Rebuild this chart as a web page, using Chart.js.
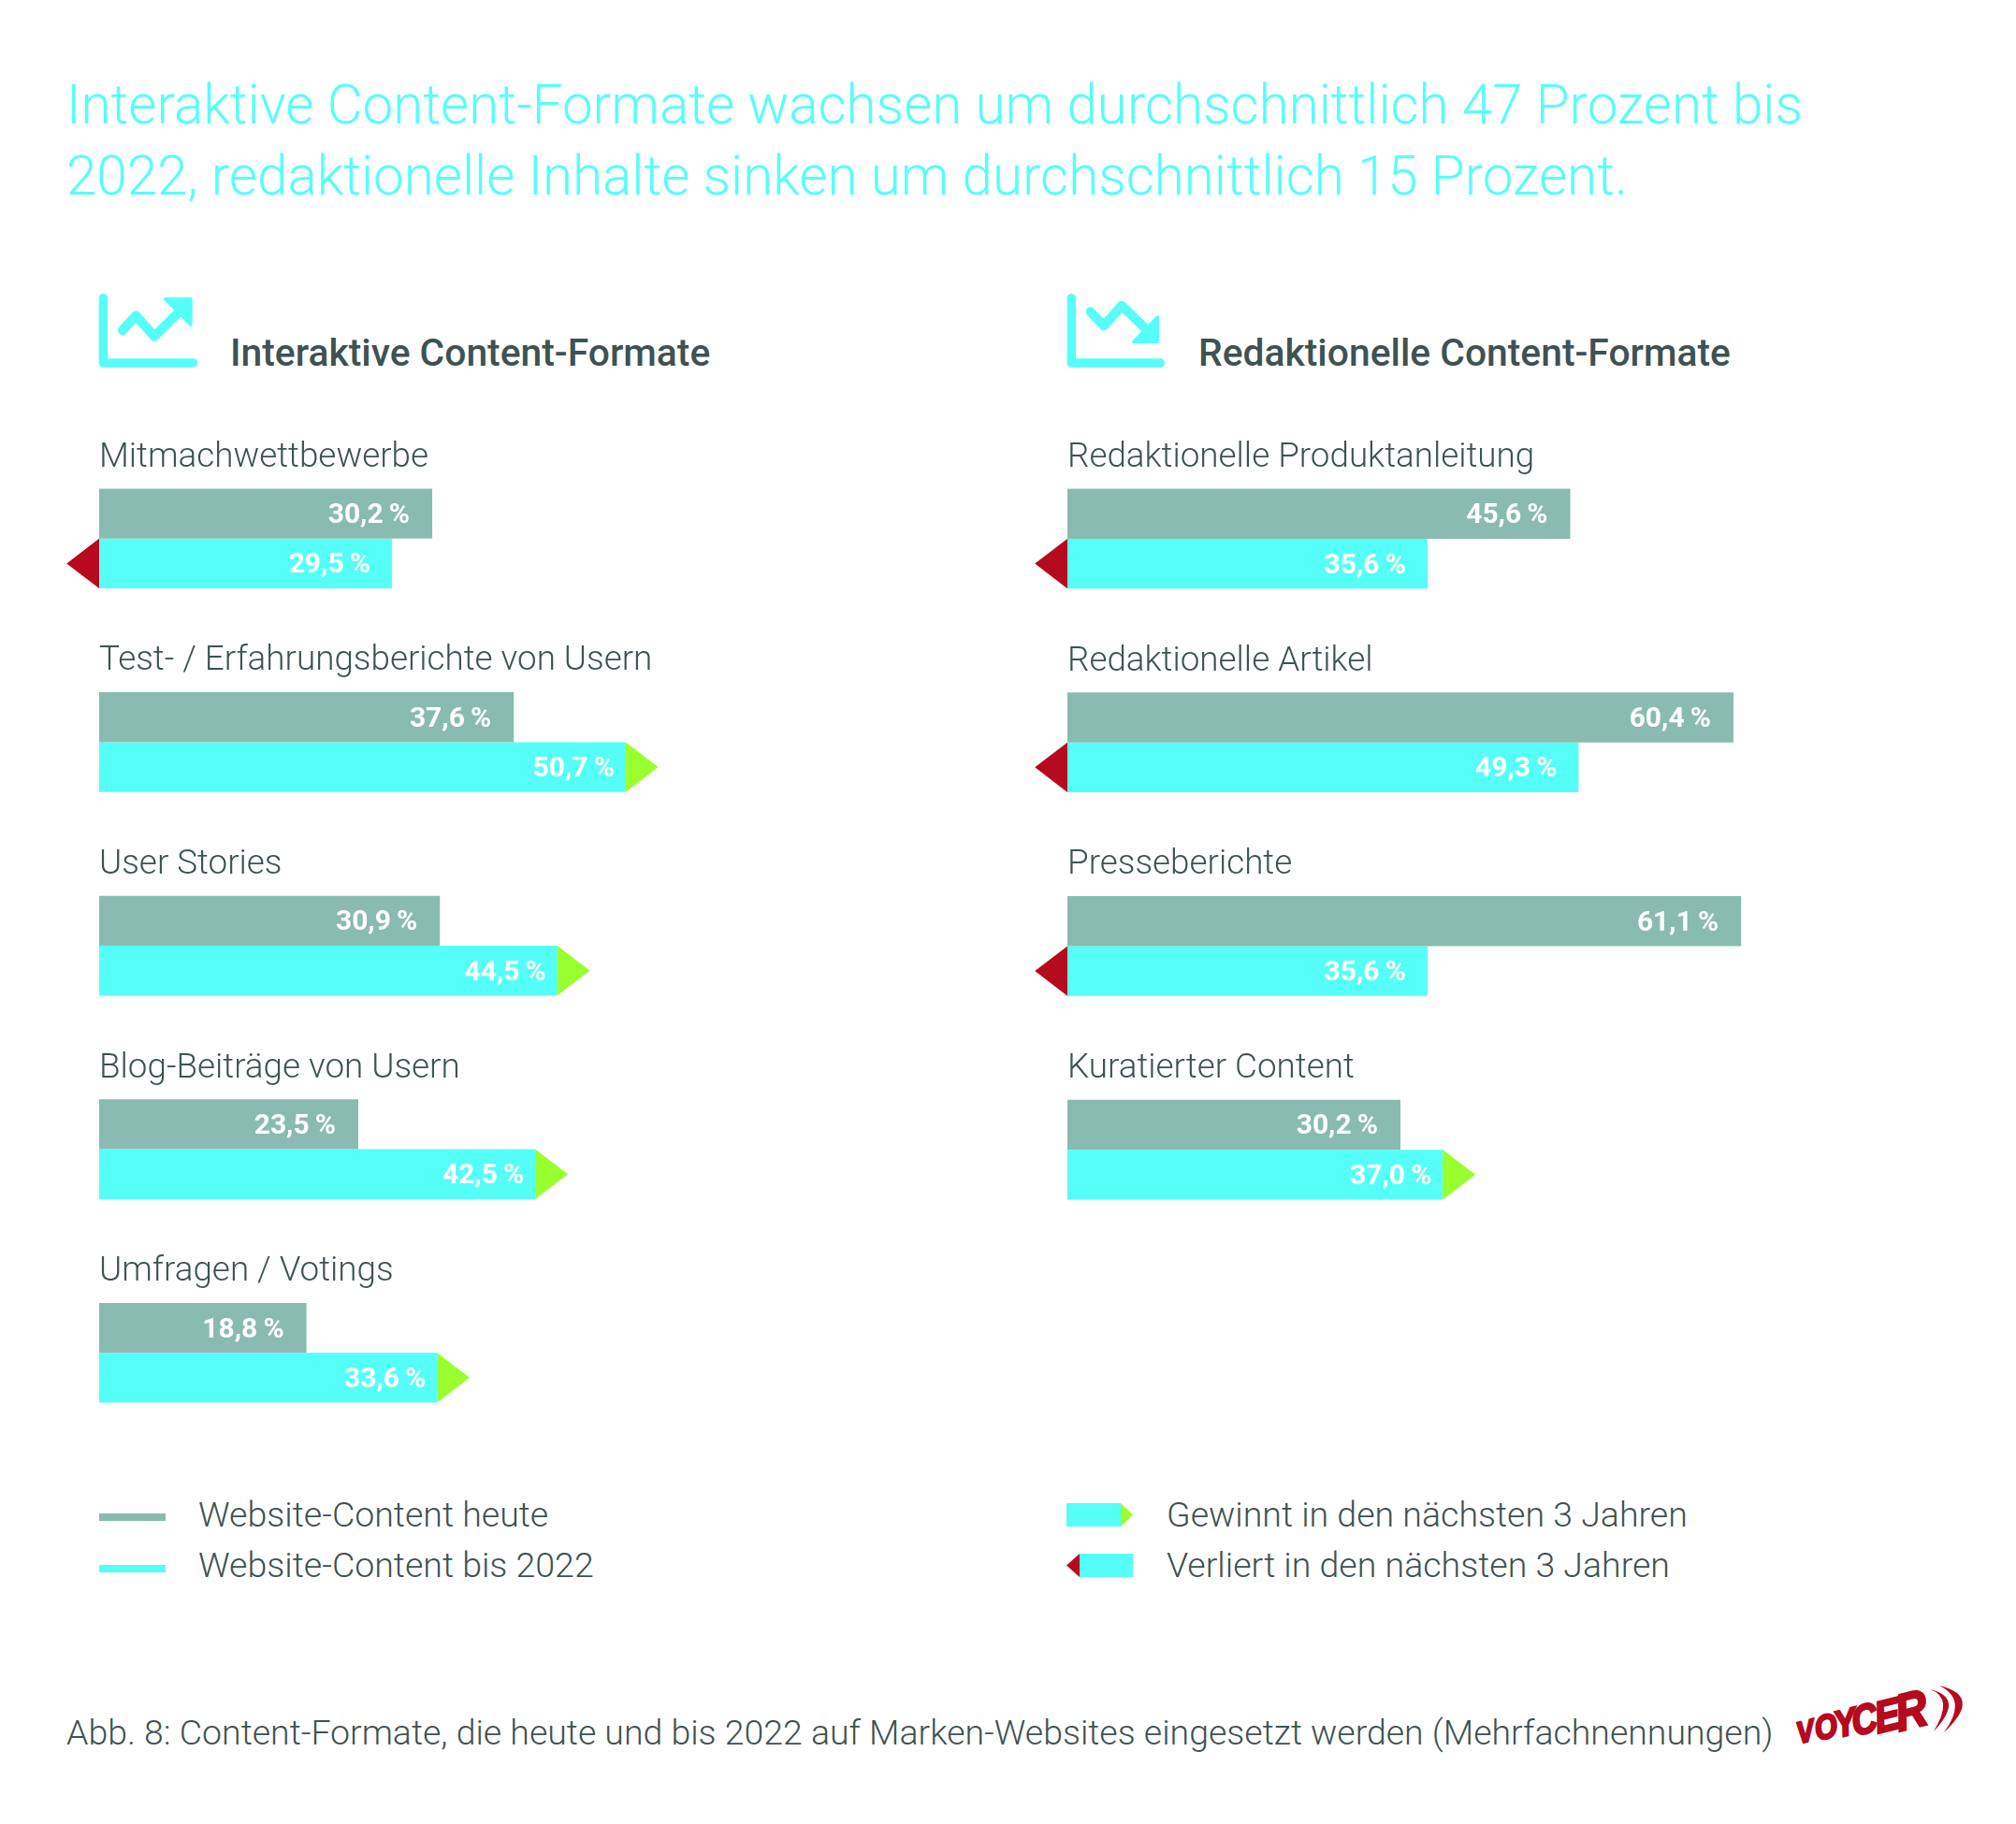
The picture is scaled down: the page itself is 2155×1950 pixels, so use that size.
<!DOCTYPE html>
<html lang="de">
<head>
<meta charset="utf-8">
<title>Content-Formate</title>
<script src="https://cdn.jsdelivr.net/npm/chart.js@4/dist/chart.umd.min.js"></script>
<style>
  html, body { margin: 0; background: #fff; }
  #page { position: relative; width: 2155px; height: 1950px; overflow: hidden; font-family: Roboto, sans-serif; }
  #page canvas, #page svg, .txt, .swatch { position: absolute; }
  .txt { white-space: nowrap; line-height: 1; }
</style>
</head>
<body>
<div id="page">
  <canvas id="chartLeft" width="1049" height="1088" style="left:0;top:467px"></canvas>
  <canvas id="chartRight" width="1049" height="871" style="left:1035px;top:467px"></canvas>

  <svg style="left:85px;top:289px" width="300" height="130" viewBox="0 0 900 390">
    <path d="M76 89V297H365" fill="none" stroke="#55fff8" stroke-width="28" stroke-linecap="round" stroke-linejoin="round"/>
    <path d="M138 192L181 145L240 212L333 120" fill="none" stroke="#55fff8" stroke-width="30" stroke-linecap="round" stroke-linejoin="round"/>
    <path d="M275 92H357V175Z" fill="#55fff8" stroke="#55fff8" stroke-width="10" stroke-linejoin="round"/>
  </svg>
  <svg style="left:1120px;top:289px" width="300" height="130" viewBox="0 0 900 390">
    <path d="M76 89V297H361" fill="none" stroke="#55fff8" stroke-width="28" stroke-linecap="round" stroke-linejoin="round"/>
    <path d="M137 133L180 178L237 113L330 203" fill="none" stroke="#55fff8" stroke-width="30" stroke-linecap="round" stroke-linejoin="round"/>
    <path d="M275 229H352V150Z" fill="#55fff8" stroke="#55fff8" stroke-width="10" stroke-linejoin="round"/>
  </svg>

  <div class="swatch" style="left:106px;top:1618px;width:71px;height:8px;background:#8abbb0"></div>
  <div class="swatch" style="left:106px;top:1673px;width:71px;height:8px;background:#55fff8"></div>
  <svg style="left:1130px;top:1600px" width="90" height="95">
    <path d="M10 7H68V32H10Z" fill="#55fff8"/>
    <path d="M68 7L81 19.5L68 32Z" fill="#9aff2e"/>
    <path d="M24 61H81V86H24Z" fill="#55fff8"/>
    <path d="M24 61L10 73.5L24 86Z" fill="#b60a1f"/>
  </svg>

  <svg style="left:1910px;top:1790px" width="200" height="90" viewBox="0 0 200 90">
    <text transform="scale(0.85 1)" rotate="-12" font-family="Liberation Sans" font-weight="700" font-style="italic" fill="#b60a1f" stroke="#b60a1f" stroke-width="2.6"><tspan x="15" y="74" font-size="32">V</tspan><tspan x="38" y="71" font-size="36">O</tspan><tspan x="63" y="68" font-size="40">Y</tspan><tspan x="85" y="66" font-size="44">C</tspan><tspan x="114" y="63" font-size="47">E</tspan><tspan x="141" y="61" font-size="55">R</tspan></text>
    <path d="M153 16Q191 25 157 61Q179 25 153 16Z" fill="#b60a1f"/>
    <path d="M163 12Q210 23 168 62Q194 27 163 12Z" fill="#b60a1f"/>
  </svg>
</div>

<script>
const leftCategories = ['Mitmachwettbewerbe', 'Test- / Erfahrungsberichte von Usern', 'User Stories', 'Blog-Beiträge von Usern', 'Umfragen / Votings'];
const leftToday = [30.2, 37.6, 30.9, 23.5, 18.8];
const leftFuture = [29.5, 50.7, 44.5, 42.5, 33.6];

const rightCategories = ['Redaktionelle Produktanleitung', 'Redaktionelle Artikel', 'Presseberichte', 'Kuratierter Content'];
const rightToday = [45.6, 60.4, 61.1, 30.2];
const rightFuture = [35.6, 49.3, 35.6, 37.0];

const titleLines = [
  'Interaktive Content-Formate wachsen um durchschnittlich 47 Prozent bis',
  '2022, redaktionelle Inhalte sinken um durchschnittlich 15 Prozent.'
];
const headLeft = 'Interaktive Content-Formate';
const headRight = 'Redaktionelle Content-Formate';
const legendToday = 'Website-Content heute';
const legendFuture = 'Website-Content bis 2022';
const legendGain = 'Gewinnt in den nächsten 3 Jahren';
const legendLoss = 'Verliert in den nächsten 3 Jahren';
const caption = 'Abb. 8: Content-Formate, die heute und bis 2022 auf Marken-Websites eingesetzt werden (Mehrfachnennungen)';

const GREY = '#8abbb0';
const CYAN = '#55fff8';
const RED = '#b60a1f';
const GREEN = '#9aff2e';
const TEXT = '#3f5253';

const AXIS_MAX = 80;
// the arrow is part of the cyan shape, so the shape's whole length is the value
const ARROW = 2.95;

function addText(text, x, baseline, size, weight, color) {
  const el = document.createElement('div');
  el.className = 'txt';
  el.textContent = text;
  el.style.left = x + 'px';
  el.style.top = (baseline - size * 0.8415) + 'px';
  el.style.fontSize = size + 'px';
  el.style.fontWeight = weight;
  el.style.color = color;
  document.getElementById('page').appendChild(el);
}

addText(titleLines[0], 71, 132, 58.3, 300, CYAN);
addText(titleLines[1], 71, 208, 58.3, 300, CYAN);
addText(headLeft, 246, 391, 40.8, 500, TEXT);
addText(headRight, 1281, 391, 40.8, 500, TEXT);
addText(legendToday, 212, 1633, 37.5, 300, TEXT);
addText(legendFuture, 212, 1687, 37.5, 300, TEXT);
addText(legendGain, 1247, 1633, 37.5, 300, TEXT);
addText(legendLoss, 1247, 1687, 37.5, 300, TEXT);
addText(caption, 71, 1866, 37.45, 300, TEXT);

function fmt(v) {
  return v.toFixed(1).replace('.', ',') + '\u2009%';
}

const marksPlugin = {
  id: 'marks',
  afterDatasetsDraw(chart) {
    const { ctx, scales } = chart;
    const today = chart.data.datasets[0].values;
    const future = chart.data.datasets[1].values;
    const topBars = chart.getDatasetMeta(0).data;
    const lowBars = chart.getDatasetMeta(1).data;
    ctx.save();

    chart.data.labels.forEach((label, i) => {
      ctx.fillStyle = TEXT;
      ctx.font = '300 36.8px Roboto';
      ctx.textAlign = 'left';
      ctx.textBaseline = 'alphabetic';
      ctx.fillText(label, scales.x.getPixelForValue(0), scales.y.getPixelForValue(i) - 77);

      const y = lowBars[i].y;
      const half = lowBars[i].height / 2;
      const gain = future[i] > today[i];
      ctx.fillStyle = gain ? GREEN : RED;
      ctx.beginPath();
      if (gain) {
        ctx.moveTo(scales.xShift.getPixelForValue(future[i]), y - half);
        ctx.lineTo(scales.x.getPixelForValue(future[i]), y);
        ctx.lineTo(scales.xShift.getPixelForValue(future[i]), y + half);
      } else {
        ctx.moveTo(scales.x.getPixelForValue(0), y - half);
        ctx.lineTo(scales.xShift.getPixelForValue(0), y);
        ctx.lineTo(scales.x.getPixelForValue(0), y + half);
      }
      ctx.closePath();
      ctx.fill();

      ctx.fillStyle = '#fff';
      ctx.font = '700 30px Roboto';
      ctx.textAlign = 'right';
      ctx.fillText(fmt(today[i]), topBars[i].x - 24, topBars[i].y + 10);
      ctx.fillText(fmt(future[i]), lowBars[i].x - (gain ? 12 : 23), y + 10);
    });
    ctx.restore();
  }
};

function makeChart(id, labels, today, future) {
  return new Chart(document.getElementById(id), {
    type: 'bar',
    data: {
      labels,
      datasets: [
        { label: legendToday, data: today, values: today, backgroundColor: GREY, xAxisID: 'x' },
        { label: legendFuture, data: future.map((v) => [ARROW, v]), values: future, backgroundColor: CYAN, xAxisID: 'xShift' }
      ]
    },
    options: {
      indexAxis: 'y',
      responsive: false,
      animation: false,
      devicePixelRatio: 1,
      layout: { padding: { left: 106, right: 0, top: 0, bottom: 0 } },
      categoryPercentage: 0.49,
      barPercentage: 1,
      plugins: { legend: { display: false }, title: { display: false }, tooltip: { enabled: false } },
      scales: {
        x: { display: false, min: 0, max: AXIS_MAX },
        xShift: { display: false, min: ARROW, max: AXIS_MAX + ARROW },
        y: { display: false, offset: true, grid: { display: false } }
      }
    },
    plugins: [marksPlugin]
  });
}

makeChart('chartLeft', leftCategories, leftToday, leftFuture);
makeChart('chartRight', rightCategories, rightToday, rightFuture);
</script>
</body>
</html>
